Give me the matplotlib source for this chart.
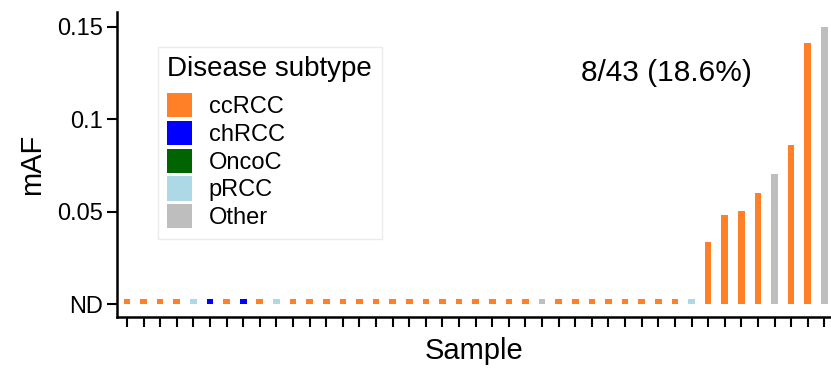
import matplotlib
matplotlib.use("Agg")
import matplotlib.pyplot as plt
from matplotlib.patches import Patch
import numpy as np

plt.rcParams['font.family'] = ['Liberation Sans', 'DejaVu Sans']

# Subtype palette
subtypes = ["ccRCC", "chRCC", "OncoC", "pRCC", "Other"]
subtype_colors = ["#FF8027", "#0000FF", "#006400", "#ADD8E6", "#BEBEBE"]

# Per-sample subtype (43 samples, sorted by mAF)
sample_subtype = (
    ["ccRCC"] * 4 + ["pRCC", "chRCC", "ccRCC", "chRCC", "ccRCC", "pRCC"]
    + ["ccRCC"] * 15 + ["Other"] + ["ccRCC"] * 8 + ["pRCC"]
    + ["ccRCC"] * 4 + ["Other", "ccRCC", "ccRCC", "Other"]
)
# mAF per sample; None = not detected
maf = [None] * 35 + [0.0338, 0.0482, 0.0505, 0.0602, 0.0703, 0.0859, 0.141, 0.150]

yticks = [0, 0.05, 0.1, 0.15]
ytick_labels = ["ND", "0.05", "0.1", "0.15"]
annotation = "8/43 (18.6%)"

nd_mark = 0.003  # height of the small marker drawn for ND samples

color_map = dict(zip(subtypes, subtype_colors))
n = len(maf)
x = np.arange(n)
heights = [nd_mark if v is None else v for v in maf]
colors = [color_map[s] for s in sample_subtype]

fig = plt.figure(figsize=(8.31, 3.72), dpi=100)
ax = fig.add_axes([0.1404, 0.147, 0.8596, 0.8215])

ax.bar(x, heights, width=0.40, color=colors, bottom=0, linewidth=0)

ax.set_xlim(-0.62, 42.4)
ax.set_ylim(-0.007, 0.158)
ax.set_xticks(x)
ax.set_xticklabels([])
ax.set_yticks(yticks)
ax.set_yticklabels(ytick_labels, fontsize=17)
ax.tick_params(axis='both', direction='out', length=7, width=1.5, color='black', pad=3)

for side in ["top", "right"]:
    ax.spines[side].set_visible(False)
for side in ["left", "bottom"]:
    ax.spines[side].set_linewidth(1.8)

ax.set_xlabel("Sample", fontsize=21, labelpad=4)
ax.set_ylabel("mAF", fontsize=21, labelpad=8)

ax.text(0.770, 0.80, annotation, transform=ax.transAxes, fontsize=21.5,
        ha='center', va='center')

handles = [Patch(facecolor=c, edgecolor='none', label=s)
           for s, c in zip(subtypes, subtype_colors)]
leg = fig.legend(handles=handles, title="Disease subtype", loc='upper left',
                 bbox_to_anchor=(158 / 831, 1 - 46.5 / 372), borderaxespad=0,
                 fontsize=17, title_fontsize=20, frameon=True, fancybox=False,
                 edgecolor='#E6E6E6', handlelength=1.05, handleheight=1.2,
                 labelspacing=0.115, handletextpad=0.7, borderpad=0.4)
leg.get_frame().set_linewidth(1.0)
leg._legend_box.align = "left"
leg._legend_box.sep = 8

fig.savefig("out.png", dpi=100)
